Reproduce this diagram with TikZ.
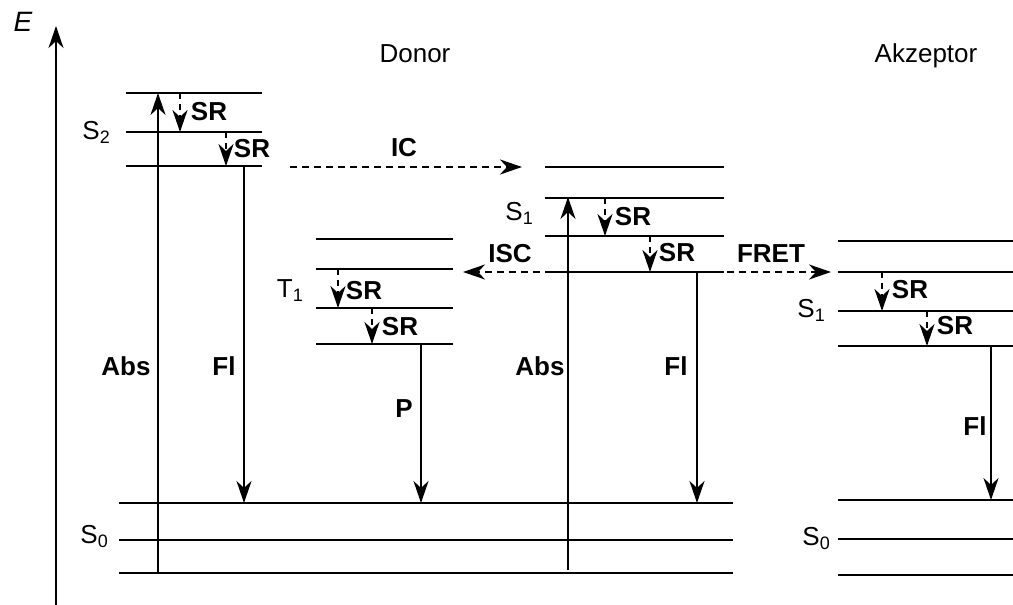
\documentclass[tikz,border=0pt]{standalone}
\usepackage{fontspec}
\setmainfont{Liberation Sans}
\usetikzlibrary{arrows.meta}
\newcommand\lvname[2]{#1\raisebox{-4pt}{\fontsize{18}{18}\selectfont #2}}
\begin{document}
\begin{tikzpicture}[x=1pt,y=-1pt,
  level/.style={line width=2.5pt},
  trans/.style={line width=2.5pt,-{Stealth[length=22pt,width=15pt,inset=7pt]}},
  relax/.style={trans,dash pattern=on 6pt off 5pt},
  dtrans/.style={trans,dash pattern=on 7pt off 5pt},
  lab/.style={font=\fontsize{26}{28}\selectfont,inner sep=0pt},
  blab/.style={font=\fontsize{26}{28}\selectfont\bfseries,inner sep=0pt},
  stlab/.style={font=\fontsize{26}{28}\selectfont,inner sep=0pt,anchor=base east}]
\useasboundingbox (0,0) rectangle (1013,605);
% energy axis
\coordinate (ax0) at (56,605);
\coordinate (ax1) at (56,26);
\draw[trans] (ax0) -- (ax1);
\node[lab,font=\fontsize{28}{30}\selectfont\itshape] (E) at (23,22) {E};
% titles
\node[lab] (donor) at (415,54) {Donor};
\node[lab] (akz) at (926,56) {Akzeptor};
% level lines
\foreach \y in {93,132,166} \draw[level] (126,\y) -- (262,\y);
\foreach \y in {503,540,573} \draw[level] (119,\y) -- (733,\y);
\foreach \y in {239,269,308,344} \draw[level] (316,\y) -- (453,\y);
\foreach \y in {167,198,236,272} \draw[level] (545,\y) -- (724,\y);
\foreach \y in {241,272,311,346} \draw[level] (838,\y) -- (1013,\y);
\foreach \y in {500,539,575} \draw[level] (838,\y) -- (1013,\y);
% state labels
\node[stlab] (S2) at (110,139) {\lvname{S}{2}};
\node[stlab] (S0d) at (108,543) {\lvname{S}{0}};
\node[stlab] (T1) at (303,297) {\lvname{T}{1}};
\node[stlab] (S1d) at (533,220) {\lvname{S}{1}};
\node[stlab] (S1a) at (825,317) {\lvname{S}{1}};
\node[stlab] (S0a) at (830,545) {\lvname{S}{0}};
% transition end points
\coordinate (absA0) at (158,572); \coordinate (absA1) at (158,93);
\coordinate (absB0) at (568,570); \coordinate (absB1) at (568,197);
\coordinate (flA0) at (244,166); \coordinate (flA1) at (244,503);
\coordinate (p0) at (421,344); \coordinate (p1) at (421,503);
\coordinate (flB0) at (697,272); \coordinate (flB1) at (697,503);
\coordinate (flC0) at (991,346); \coordinate (flC1) at (991,500);
\coordinate (sr1a) at (180,93); \coordinate (sr1b) at (180,132);
\coordinate (sr2a) at (226,132); \coordinate (sr2b) at (226,166);
\coordinate (sr3a) at (338,269); \coordinate (sr3b) at (338,308);
\coordinate (sr4a) at (372,308); \coordinate (sr4b) at (372,344);
\coordinate (sr5a) at (605,198); \coordinate (sr5b) at (605,236);
\coordinate (sr6a) at (650,236); \coordinate (sr6b) at (650,272);
\coordinate (sr7a) at (882,272); \coordinate (sr7b) at (882,311);
\coordinate (sr8a) at (927,311); \coordinate (sr8b) at (927,346);
\coordinate (ic0) at (290,167); \coordinate (ic1) at (522,167);
\coordinate (isc0) at (540,272); \coordinate (isc1) at (463,272);
\coordinate (fret0) at (727,272); \coordinate (fret1) at (831,272);
% radiative transitions
\draw[trans] (absA0) -- (absA1);
\draw[trans] (absB0) -- (absB1);
\draw[trans] (flA0) -- (flA1);
\draw[trans] (p0) -- (p1);
\draw[trans] (flB0) -- (flB1);
\draw[trans] (flC0) -- (flC1);
% vibrational relaxation
\foreach \i in {1,...,8} \draw[relax] (sr\i a) -- (sr\i b);
% non-radiative transitions
\draw[dtrans] (ic0) -- (ic1);
\draw[dtrans] (isc0) -- (isc1);
\draw[dtrans] (fret0) -- (fret1);
% transition labels
\node[blab] (labAbsA) at (126,366) {Abs};
\node[blab] (labFlA) at (224,366) {Fl};
\node[blab] (labP) at (404,409) {P};
\node[blab] (labAbsB) at (540,366) {Abs};
\node[blab] (labFlB) at (676,366) {Fl};
\node[blab] (labFlC) at (975,426) {Fl};
\node[blab] (labIC) at (404,148) {IC};
\node[blab] (labISC) at (510,254) {ISC};
\node[blab] (labFRET) at (771,254) {FRET};
\node[blab] (labSR1) at (209,112) {SR};
\node[blab] (labSR2) at (252,149) {SR};
\node[blab] (labSR3) at (364,291) {SR};
\node[blab] (labSR4) at (400,327) {SR};
\node[blab] (labSR5) at (633,217) {SR};
\node[blab] (labSR6) at (677,253) {SR};
\node[blab] (labSR7) at (910,290) {SR};
\node[blab] (labSR8) at (955,326) {SR};
\end{tikzpicture}
\end{document}
